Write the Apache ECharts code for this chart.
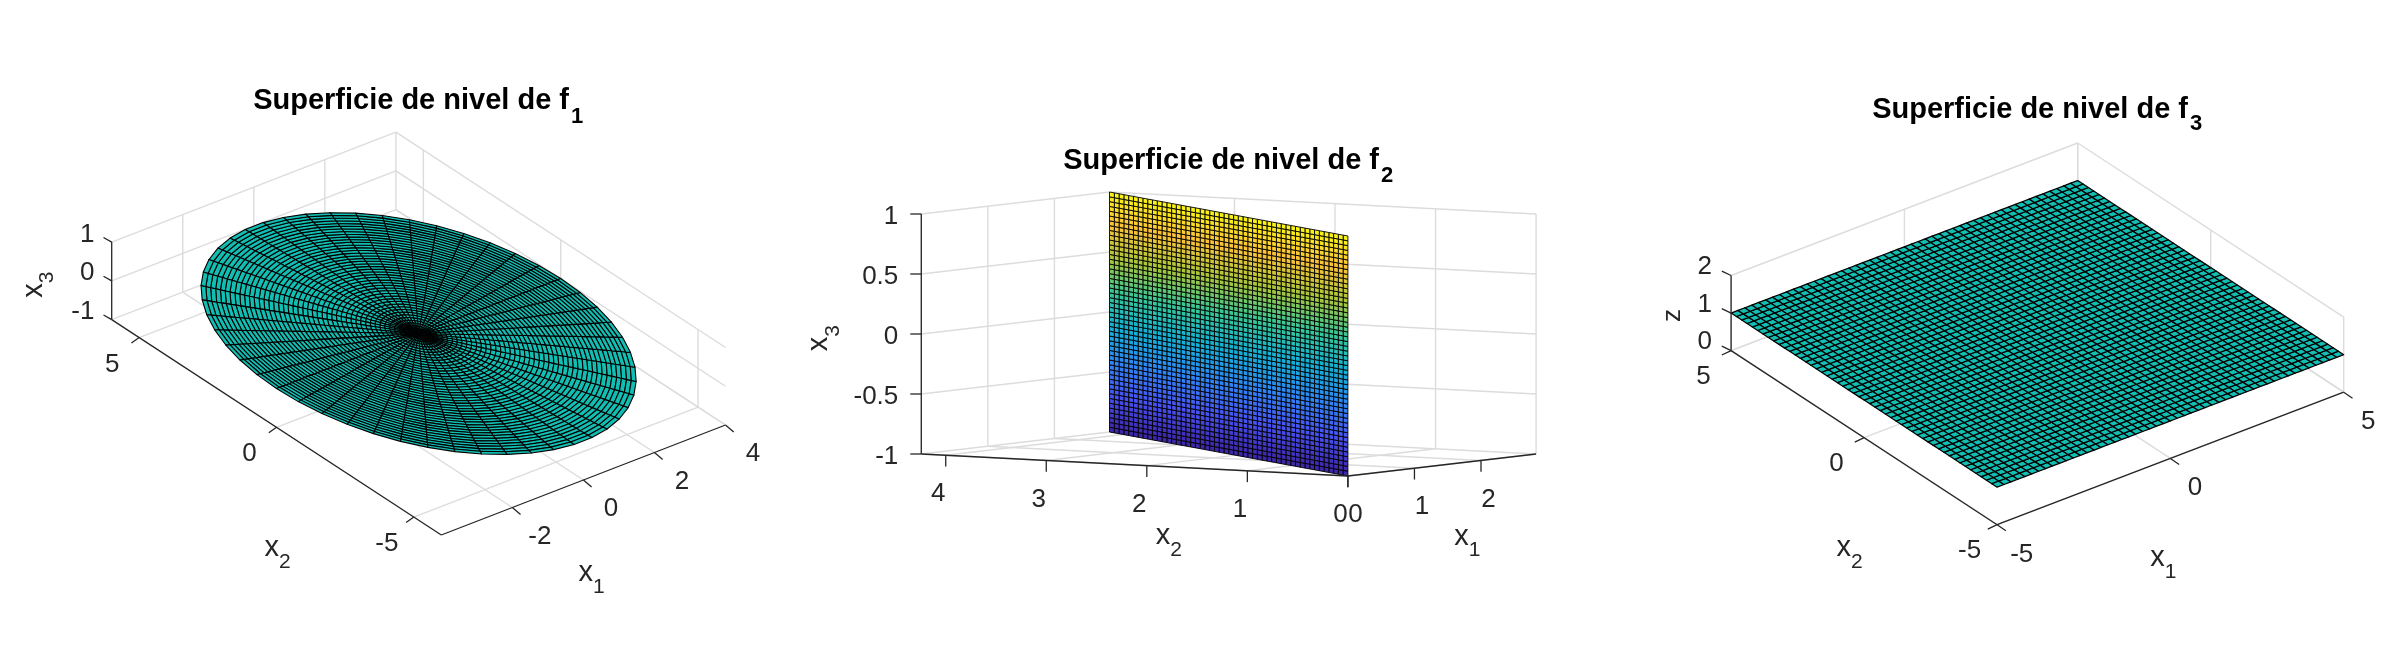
<!DOCTYPE html>
<html>
<head>
<meta charset="utf-8">
<style>html,body{margin:0;padding:0;background:#fff}#c{width:2391px;height:661px}</style>
<script src="https://cdn.jsdelivr.net/npm/echarts@6/dist/echarts.min.js"></script>
</head>
<body>
<div id="c"></div>
<script>
// ---------- data ----------
const f1RingFractions = [0,.022,.044,.067,.089,.111,.133,.156,.178,.2,.222,.244,.267,.289,.311,.333,.356,.378,.4,.422,.444,.467,.489,.511,.533,.556,.578,.6,.622,.644,.667,.689,.711,.733,.756,.778,.8,.822,.844,.867,.889,.911,.933,.956,.978,1];
const f1AnglesDeg = [0,7.2,14.4,21.6,28.8,36,43.2,50.4,57.6,64.8,72,79.2,86.4,93.6,100.8,108,115.2,122.4,129.6,136.8,144,151.2,158.4,165.6,172.8,180,187.2,194.4,201.6,208.8,216,223.2,230.4,237.6,244.8,252,259.2,266.4,273.6,280.8,288,295.2,302.4,309.6,316.8,324,331.2,338.4,345.6,352.8,360];
const f1SemiAxes = [4, 6];
const f1Level = 0;
const f2X1 = [0,.057,.113,.17,.226,.283,.339,.396,.453,.509,.566,.622,.679,.735,.792,.849,.905,.962,1.018,1.075,1.131,1.188,1.245,1.301,1.358,1.414,1.471,1.527,1.584,1.641,1.697,1.754,1.81,1.867,1.923,1.98,2.036,2.093,2.15,2.206,2.263,2.319,2.376,2.432,2.489,2.546,2.602,2.659,2.715,2.772,2.828];
const f2X2 = [0,.085,.17,.255,.339,.424,.509,.594,.679,.764,.849,.933,1.018,1.103,1.188,1.273,1.358,1.442,1.527,1.612,1.697,1.782,1.867,1.952,2.036,2.121,2.206,2.291,2.376,2.461,2.546,2.63,2.715,2.8,2.885,2.97,3.055,3.139,3.224,3.309,3.394,3.479,3.564,3.649,3.733,3.818,3.903,3.988,4.073,4.158,4.243];
const f2X3 = [-1,-.96,-.92,-.88,-.84,-.8,-.76,-.72,-.68,-.64,-.6,-.56,-.52,-.48,-.44,-.4,-.36,-.32,-.28,-.24,-.2,-.16,-.12,-.08,-.04,0,.04,.08,.12,.16,.2,.24,.28,.32,.36,.4,.44,.48,.52,.56,.6,.64,.68,.72,.76,.8,.84,.88,.92,.96,1];
const f3Grid = [-5,-4.8,-4.6,-4.4,-4.2,-4,-3.8,-3.6,-3.4,-3.2,-3,-2.8,-2.6,-2.4,-2.2,-2,-1.8,-1.6,-1.4,-1.2,-1,-.8,-.6,-.4,-.2,0,.2,.4,.6,.8,1,1.2,1.4,1.6,1.8,2,2.2,2.4,2.6,2.8,3,3.2,3.4,3.6,3.8,4,4.2,4.4,4.6,4.8,5];
const f3Level = 1;

const p1Ticks = { x1: [-2,0,2,4], x2: [-5,0,5], z: [-1,0,1] };
const p2Ticks = { x1: [0,1,2], x2: [0,1,2,3,4], z: [-1,-0.5,0,0.5,1] };
const p3Ticks = { x1: [-5,0,5], x2: [-5,0,5], z: [0,1,2] };

const titleMain = 'Superficie de nivel de f';

// ---------- panel view geometry (axis limits + where the box corners land) ----------
const panels = [
  { lim:{x1:[-4,4],x2:[-6,6],z:[-1,1]}, ticks:p1Ticks,
    front:[441.3,535], right:[725.5,425], left:[111.7,319.6], zH:77.5,
    tick:{x1:[8.2,7.1],x2:[-7.7,5.4],z:[-8.2,-4.6]},
    off:{x1:[27.5,29.3],x2:[-27,26.8],z:[-17.3,-7.7]},
    title:{x:569,y:101,sy:117,sub:'1'},
    lab:{ x1:{x:592.9,y:573.2,sy:586.8,m:'x',s:'1'}, x2:{x:279,y:547.5,sy:561.8,m:'x',s:'2'},
          z:{y:283.2,x:33.7,sx:47.4,m:'x',s:'3'} } },
  { lim:{x1:[0,2.828],x2:[0,4.243],z:[-1,1]}, ticks:p2Ticks,
    front:[1347.9,476], right:[1536.1,454], left:[921.3,454], zH:240,
    tick:{x1:[0,11.3],x2:[0,11.3],z:[-11,0]},
    off:{x1:[7.5,39],x2:[-7.5,39],z:[-23,2.4]},
    title:{x:1379,y:160.7,sy:176,sub:'2'},
    lab:{ x1:{x:1468.8,y:536.7,sy:550,m:'x',s:'1'}, x2:{x:1170.3,y:536,sy:550,m:'x',s:'2'},
          z:{y:336.7,x:819.3,sx:833.6,m:'x',s:'3'} } },
  { lim:{x1:[-5,5],x2:[-5,5],z:[0,2]}, ticks:p3Ticks,
    front:[1997.1,524.7], right:[2343.7,392.2], left:[1731.1,350.6], zH:75.1,
    tick:{x1:[8.8,6.1],x2:[-9.3,4.4],z:[-9.3,-4.4]},
    off:{x1:[24.6,29.7],x2:[-27.5,26.4],z:[-19.2,-8.5]},
    title:{x:2188,y:109.9,sy:124.1,sub:'3'},
    lab:{ x1:{x:2164.7,y:557.8,sy:572.4,m:'x',s:'1'}, x2:{x:1851,y:548.4,sy:562.2,m:'x',s:'2'},
          z:{y:315.4,x:1673,m:'z'} } }
];

const FONT = "'Liberation Sans', Arial, sans-serif";
const AXIS = '#262626', GRID = '#dcdcdc', INK = '#262626';
const TEAL = '#12bdb2';
const parulaStops = [[62,38,168],[72,82,244],[46,135,247],[18,177,214],[55,200,151],[171,199,57],[254,195,56],[249,251,21]];

function parula(t){
  const p = Math.max(0,Math.min(1,t))*(parulaStops.length-1), i = Math.min(parulaStops.length-2,Math.floor(p)), f = p-i;
  const a = parulaStops[i], b = parulaStops[i+1];
  return 'rgb('+[0,1,2].map(k=>Math.round(a[k]+(b[k]-a[k])*f)).join(',')+')';
}
// Orthographic view: data (x1,x2,x3) -> view plane of the hidden cartesian axes
function project(P,x1,x2,z){
  const u=(x1-P.lim.x1[0])/(P.lim.x1[1]-P.lim.x1[0]), v=(x2-P.lim.x2[0])/(P.lim.x2[1]-P.lim.x2[0]), w=(z-P.lim.z[0])/(P.lim.z[1]-P.lim.z[0]);
  return [ P.front[0]+u*(P.right[0]-P.front[0])+v*(P.left[0]-P.front[0]),
           P.front[1]+u*(P.right[1]-P.front[1])+v*(P.left[1]-P.front[1])-w*P.zH ];
}
function seg(a,b){ return [a[0],a[1],b[0],b[1]]; }

const gridSegs=[], axisSegs=[], texts=[];
panels.forEach(P=>{
  const L=P.lim, T=P.ticks;
  T.x1.forEach(t=>{
    gridSegs.push(seg(project(P,t,L.x2[0],L.z[0]),project(P,t,L.x2[1],L.z[0])));
    gridSegs.push(seg(project(P,t,L.x2[1],L.z[0]),project(P,t,L.x2[1],L.z[1])));
  });
  T.x2.forEach(t=>{
    gridSegs.push(seg(project(P,L.x1[0],t,L.z[0]),project(P,L.x1[1],t,L.z[0])));
    gridSegs.push(seg(project(P,L.x1[1],t,L.z[0]),project(P,L.x1[1],t,L.z[1])));
  });
  T.z.forEach(t=>{
    gridSegs.push(seg(project(P,L.x1[0],L.x2[1],t),project(P,L.x1[1],L.x2[1],t)));
    gridSegs.push(seg(project(P,L.x1[1],L.x2[1],t),project(P,L.x1[1],L.x2[0],t)));
  });
  axisSegs.push(seg(project(P,L.x1[0],L.x2[0],L.z[0]),project(P,L.x1[1],L.x2[0],L.z[0])));
  axisSegs.push(seg(project(P,L.x1[0],L.x2[0],L.z[0]),project(P,L.x1[0],L.x2[1],L.z[0])));
  axisSegs.push(seg(project(P,L.x1[0],L.x2[1],L.z[0]),project(P,L.x1[0],L.x2[1],L.z[1])));
  const mark=(p,tv,off,label,align)=>{
    axisSegs.push([p[0],p[1],p[0]+tv[0],p[1]+tv[1]]);
    texts.push({pos:[p[0]+off[0],p[1]+off[1]],text:String(label),size:26,align:align});
  };
  T.x1.forEach(t=>mark(project(P,t,L.x2[0],L.z[0]),P.tick.x1,P.off.x1,t,'center'));
  T.x2.forEach(t=>mark(project(P,L.x1[0],t,L.z[0]),P.tick.x2,P.off.x2,t,'center'));
  T.z.forEach(t=>mark(project(P,L.x1[0],L.x2[1],t),P.tick.z,P.off.z,t,'right'));
  // title with subscript
  texts.push({pos:[P.title.x,P.title.y],text:titleMain,size:29,bold:true,align:'right'});
  texts.push({pos:[P.title.x+2,P.title.sy],text:P.title.sub,size:22,bold:true,align:'left'});
  // axis names with subscripts
  [P.lab.x1,P.lab.x2].forEach(l=>{
    texts.push({pos:[l.x,l.y],text:l.m,size:29,align:'right'});
    texts.push({pos:[l.x,l.sy],text:l.s,size:21,align:'left'});
  });
  const lz=P.lab.z;
  if(lz.s){
    texts.push({pos:[lz.x,lz.y],text:lz.m,size:29,align:'right',rot:Math.PI/2});
    texts.push({pos:[lz.sx,lz.y],text:lz.s,size:21,align:'left',rot:Math.PI/2});
  } else {
    texts.push({pos:[lz.x,lz.y],text:lz.m,size:26,align:'center',rot:Math.PI/2});
  }
});

// surfaces -> quads in the view plane
function quad(P,a,b,c,d,color){
  const pts=[a,b,c,d].map(q=>project(P,q[0],q[1],q[2]));
  return {value:[].concat(pts[0],pts[1],pts[2],pts[3]),color:color};
}
const f1Quads=[];
for(let i=0;i<f1RingFractions.length-1;i++)for(let j=0;j<f1AnglesDeg.length-1;j++){
  const pt=(r,t)=>[f1SemiAxes[0]*r*Math.cos(t*Math.PI/180),f1SemiAxes[1]*r*Math.sin(t*Math.PI/180),f1Level];
  const r0=f1RingFractions[i],r1=f1RingFractions[i+1],t0=f1AnglesDeg[j],t1=f1AnglesDeg[j+1];
  f1Quads.push(quad(panels[0],pt(r0,t0),pt(r1,t0),pt(r1,t1),pt(r0,t1),TEAL));
}
const f2Quads=[];
for(let i=0;i<f2X1.length-1;i++)for(let k=0;k<f2X3.length-1;k++){
  const c=parula((f2X3[k]+1)/2);
  f2Quads.push(quad(panels[1],[f2X1[i],f2X2[i],f2X3[k]],[f2X1[i+1],f2X2[i+1],f2X3[k]],[f2X1[i+1],f2X2[i+1],f2X3[k+1]],[f2X1[i],f2X2[i],f2X3[k+1]],c));
}
const f3Quads=[];
for(let i=0;i<f3Grid.length-1;i++)for(let j=0;j<f3Grid.length-1;j++){
  f3Quads.push(quad(panels[2],[f3Grid[i],f3Grid[j],f3Level],[f3Grid[i+1],f3Grid[j],f3Level],[f3Grid[i+1],f3Grid[j+1],f3Level],[f3Grid[i],f3Grid[j+1],f3Level],TEAL));
}

function surfaceSeries(name,quads,lw){
  return { type:'custom', name:name, coordinateSystem:'cartesian2d', silent:true, clip:false,
    progressive:0, animation:false, data:quads.map(q=>q.value),
    renderItem(params,api){
      const pts=[];
      for(let k=0;k<4;k++) pts.push(api.coord([api.value(2*k),api.value(2*k+1)]));
      return {type:'polygon',shape:{points:pts},
        style:{fill:quads[params.dataIndex].color,stroke:'#000',lineWidth:lw,lineJoin:'round'}};
    }, encode:{x:0,y:1} };
}
function lineSeries(name,segs,color,lw){
  return { type:'custom', name:name, coordinateSystem:'cartesian2d', silent:true, clip:false,
    progressive:0, animation:false, data:segs,
    renderItem(params,api){
      const a=api.coord([api.value(0),api.value(1)]), b=api.coord([api.value(2),api.value(3)]);
      return {type:'line',shape:{x1:a[0],y1:a[1],x2:b[0],y2:b[1]},style:{stroke:color,lineWidth:lw}};
    }, encode:{x:0,y:1} };
}
const textSeries = { type:'custom', name:'text', coordinateSystem:'cartesian2d', silent:true, clip:false,
  progressive:0, animation:false, data:texts.map(t=>t.pos),
  renderItem(params,api){
    const t=texts[params.dataIndex], p=api.coord([api.value(0),api.value(1)]);
    return {type:'text',x:p[0],y:p[1],rotation:t.rot||0,
      style:{text:t.text,fontSize:t.size,fontFamily:FONT,fontWeight:t.bold?'bold':'normal',
             fill:t.bold?'#000':INK,align:t.align,verticalAlign:'middle'}};
  }, encode:{x:0,y:1} };

const chart = echarts.init(document.getElementById('c'),null,{renderer:'canvas'});
chart.setOption({
  animation:false, backgroundColor:'#fff',
  grid:{left:0,right:0,top:0,bottom:0},
  xAxis:{type:'value',min:0,max:2391,show:false},
  yAxis:{type:'value',min:0,max:661,inverse:true,show:false},
  series:[
    lineSeries('grid',gridSegs,GRID,1.4),
    surfaceSeries('f1',f1Quads,1.1),
    surfaceSeries('f2',f2Quads,0.9),
    surfaceSeries('f3',f3Quads,1.25),
    lineSeries('axes',axisSegs,AXIS,1.3),
    textSeries
  ]
});
</script>
</body>
</html>
